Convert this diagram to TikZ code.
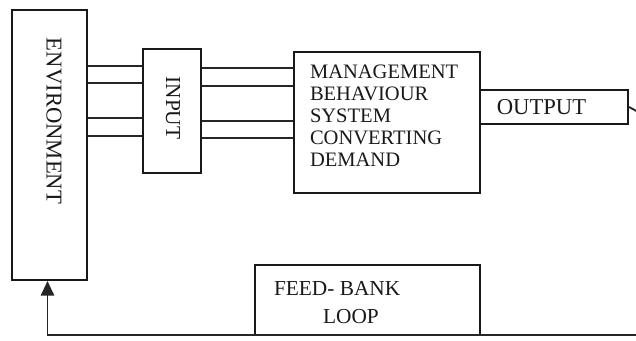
\documentclass[tikz,border=0pt]{standalone}
\usepackage{fontspec}
\setmainfont{Liberation Serif}
\usetikzlibrary{arrows.meta}

\begin{document}
\begin{tikzpicture}[x=0.75pt,y=-0.75pt,line width=1.5pt,
  box/.style={draw=black!90,inner sep=0,minimum width={#1}},
  lbl/.style={text=black!90,inner sep=0},
  link/.style={draw=black!85,line width=1.4pt}]
\useasboundingbox (0,0) rectangle (636,341);
\node[box={75*0.75pt},minimum height={270*0.75pt}] (env) at (49.5,145) {};
\node[lbl,rotate=-90,font=\fontsize{17}{20}\selectfont] (envtxt) at (54,121) {ENVIRONMENT};
\node[box={58*0.75pt},minimum height={124*0.75pt}] (input) at (172,111) {};
\node[lbl,rotate=-90,font=\fontsize{16}{19}\selectfont] (inputtxt) at (173,108) {INPUT};
\node[box={186*0.75pt},minimum height={141*0.75pt}] (mbs) at (387,122.5) {};
\node[lbl,anchor=north west,align=left,font=\fontsize{15.4}{16.5}\selectfont] (mbstxt) at (309,64)
  {MANAGEMENT\\BEHAVIOUR\\SYSTEM\\CONVERTING\\DEMAND};
\node[box={148*0.75pt},minimum height={34*0.75pt}] (out) at (554,107) {};
\node[lbl,font=\fontsize{17}{20}\selectfont] (outtxt) at (541.5,107.5) {OUTPUT};
\node[box={225*0.75pt},minimum height={70*0.75pt}] (feed) at (367.5,300) {};
\node[lbl,anchor=north west,align=left,font=\fontsize{16}{21}\selectfont] (feedtxt) at (273,280)
  {FEED- BANK\\\hspace*{2.3em}LOOP};
\coordinate (outend) at (642,114);
\coordinate (botend) at (642,335);
\foreach \y in {66,83,118,136}
  \draw[link] (env.east |- 0,\y) -- (input.west |- 0,\y);
\foreach \y in {68,86,121,138}
  \draw[link] (input.east |- 0,\y) -- (mbs.west |- 0,\y);
\draw[link] (out.east) -- (outend);
\draw[link,-{Triangle[width=10pt,length=11pt]}] (botend) -| ([xshift=-1.5]env.south);
\end{tikzpicture}
\end{document}
